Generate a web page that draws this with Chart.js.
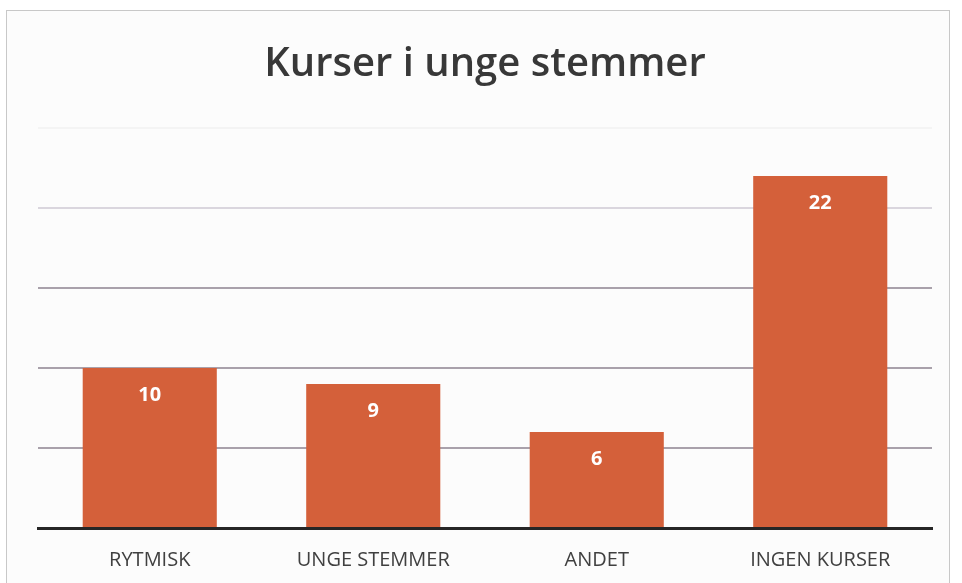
<!DOCTYPE html>
<html>
<head>
<meta charset="utf-8">
<script src="https://cdn.jsdelivr.net/npm/chart.js@4"></script>
<style>
  html, body { margin: 0; padding: 0; background: #fff; }
  #wrap { position: relative; width: 962px; height: 583px; }
  #card { position: absolute; left: 6px; top: 10px; width: 944px; height: 580px;
          border: 1px solid #c8c8c8; background: #fcfcfc; box-sizing: border-box; }
  canvas { position: absolute; left: 0; top: 0; }
</style>
</head>
<body>
<div id="wrap">
  <div id="card"></div>
  <canvas id="myChart" width="962" height="583"></canvas>
</div>
<script>
// data
const labels = ['RYTMISK', 'UNGE STEMMER', 'ANDET', 'INGEN KURSER'];
const values = [10, 9, 6, 22];
const barColor = '#d4603a';

// white value labels just under the bar tops
const valueLabels = {
    id: 'valueLabels',
    afterDatasetsDraw(chart) {
        const ctx = chart.ctx;
        const meta = chart.getDatasetMeta(0);
        ctx.save();
        ctx.fillStyle = '#ffffff';
        ctx.font = 'bold 20px "Open Sans"';
        ctx.textAlign = 'center';
        ctx.textBaseline = 'middle';
        meta.data.forEach((bar, i) => {
            ctx.fillText(values[i], bar.x, bar.y + 27);
        });
        ctx.restore();
    }
};

// scan makes the upper gridlines fade out
const gridColor = (c) => {
    if (!c.tick) return '#aaa2aa';
    if (c.tick.value >= 25) return '#f4f4f4';
    if (c.tick.value >= 20) return '#dad6de';
    return '#a9a1ab';
};

const ctx = document.getElementById('myChart').getContext('2d');
const myChart = new Chart(ctx, {
    type: 'bar',
    data: {
        labels: labels,
        datasets: [{
            data: values,
            backgroundColor: barColor,
            borderWidth: 0,
            categoryPercentage: 1,
            barPercentage: 0.6,
        }],
    },
    options: {
        responsive: false,
        animation: false,
        layout: {
            padding: { left: 38, right: 30, top: 10, bottom: 0 },
        },
        scales: {
            x: {
                grid: { display: false, drawTicks: false },
                border: { display: true, color: '#262626', width: 3 },
                ticks: {
                    color: '#404040',
                    padding: 20,
                    font: { family: 'Open Sans', size: 20 },
                },
                afterFit: (scale) => { scale.height = 55; },
            },
            y: {
                min: 0,
                max: 25,
                ticks: { display: false, stepSize: 5 },
                border: { display: false },
                grid: {
                    drawTicks: false,
                    lineWidth: 2,
                    color: gridColor,
                },
                afterFit: (scale) => { scale.width = 0; },
            },
        },
        plugins: {
            legend: { display: false },
            tooltip: { enabled: false },
            title: {
                display: true,
                text: 'Kurser i unge stemmer',
                color: '#383838',
                font: { family: 'Open Sans', size: 40, weight: 600 },
                padding: { top: 31, bottom: 39 },
            },
        },
    },
    plugins: [valueLabels],
});
</script>
</body>
</html>
